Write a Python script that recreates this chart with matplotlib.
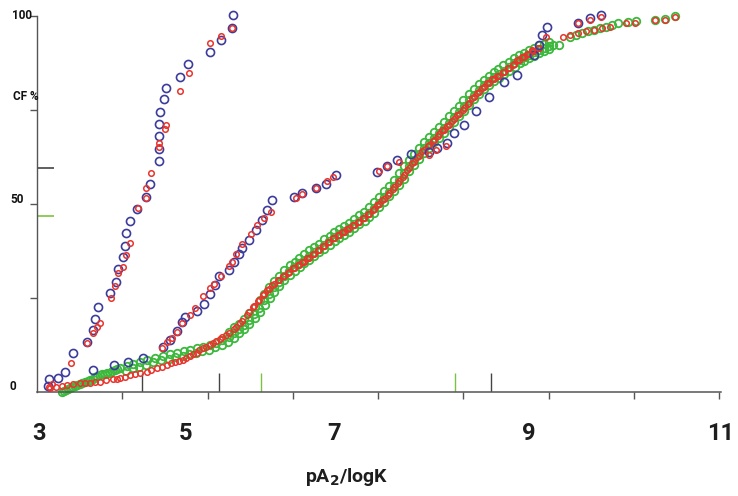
import matplotlib
matplotlib.use("Agg")
import matplotlib.pyplot as plt

# ---------------- data (pA2/logK, CF %) ----------------
blue_left_x = [3.125, 3.137, 3.242, 3.324, 3.418, 3.582, 3.652, 3.675, 3.710, 3.851, 3.921,
               3.944, 4.003, 4.026, 4.038, 4.085, 4.167, 4.272, 4.319, 4.424, 4.424, 4.424,
               4.424, 4.436, 4.483, 4.506, 4.670, 4.763, 5.021, 5.150, 5.290, 5.302]
blue_left_y = [1.5, 3.4, 3.6, 5.2, 10.3, 13.2, 16.4, 19.3, 22.5, 26.3, 29.2,
               32.6, 35.8, 38.8, 42.2, 45.4, 48.6, 51.8, 55.2, 61.4, 64.5, 68.0,
               71.2, 74.4, 77.8, 80.8, 83.7, 87.2, 90.4, 93.5, 96.8, 100.2]

red_left_x = [3.137, 3.172, 3.394, 3.582, 3.652, 3.699, 3.734, 3.862, 3.909, 3.944, 4.003,
              4.038, 4.085, 4.178, 4.272, 4.272, 4.330, 4.424, 4.424, 4.494, 4.506, 4.670,
              4.775, 5.021, 5.150, 5.290]
red_left_y = [1.3, 2.0, 7.6, 13.0, 15.6, 17.2, 18.3, 24.9, 28.1, 31.6, 33.2,
              36.4, 39.5, 48.8, 51.5, 54.2, 58.2, 65.1, 66.1, 69.9, 70.9, 80.0,
              84.8, 92.7, 94.6, 96.7]

blue_mid_x = [3.652, 3.898, 4.061, 4.237, 4.471, 4.553, 4.635, 4.693, 4.728, 4.869, 4.962,
              5.021, 5.091, 5.138, 5.255, 5.313, 5.372, 5.407, 5.489, 5.571, 5.641, 5.700,
              5.758, 6.016, 6.109, 6.273, 6.390, 6.507, 6.987, 7.104, 7.221, 7.385, 7.595,
              7.689, 7.806, 7.888, 8.005, 8.145, 8.297, 8.473, 8.625, 8.824, 8.882, 8.917,
              8.976, 9.350, 9.491, 9.619]
blue_mid_y = [5.8, 7.1, 7.9, 8.9, 11.9, 13.8, 16.1, 18.5, 19.9, 21.5, 23.3,
              26.0, 28.4, 30.8, 32.4, 34.5, 36.6, 38.2, 40.3, 43.0, 45.7, 48.3,
              51.0, 51.8, 52.8, 54.2, 55.2, 57.6, 58.4, 60.0, 61.6, 63.2, 63.8,
              64.8, 66.1, 68.8, 70.9, 74.7, 78.4, 82.4, 84.2, 89.5, 92.2, 94.9,
              97.0, 98.1, 99.4, 100.2]

red_mid_x = [4.461, 4.518, 4.576, 4.635, 4.693, 4.787, 4.845, 4.939, 5.021, 5.079, 5.161,
             5.255, 5.290, 5.337, 5.407, 5.512, 5.583, 5.665, 5.747, 6.039, 6.109, 6.273,
             6.402, 6.472, 7.010, 7.104, 7.244, 7.595, 7.677, 7.794, 8.800, 8.964, 9.350,
             9.491, 9.619]
red_mid_y = [11.6, 13.2, 14.3, 15.9, 18.3, 20.4, 22.3, 25.4, 27.6, 28.6, 30.8,
             33.4, 34.5, 36.6, 39.3, 41.9, 44.3, 46.2, 47.8, 51.6, 52.6, 54.2,
             56.0, 57.1, 58.7, 60.0, 61.1, 63.0, 64.3, 65.4, 90.9, 94.3, 98.1,
             98.9, 99.7]

# green: centre of the dense band
green_x = [3.289, 3.336, 3.383, 3.441, 3.500, 3.558, 3.617, 3.675, 3.734, 3.792, 3.851,
           3.909, 3.968, 4.050, 4.120, 4.202, 4.284, 4.377, 4.471, 4.553, 4.635, 4.717,
           4.787, 4.869, 4.939, 5.021, 5.103, 5.173, 5.255, 5.313, 5.372, 5.431, 5.489,
           5.548, 5.606, 5.665, 5.723, 5.782, 5.840, 5.899, 5.957, 6.016, 6.074, 6.133,
           6.191, 6.250, 6.308, 6.367, 6.425, 6.484, 6.542, 6.601, 6.659, 6.718, 6.776,
           6.835, 6.893, 6.952, 7.010, 7.069, 7.127, 7.186, 7.244, 7.303, 7.361, 7.420,
           7.478, 7.537, 7.595, 7.654, 7.712, 7.771, 7.829, 7.888, 7.946, 8.005, 8.063,
           8.122, 8.180, 8.239, 8.297, 8.356, 8.414, 8.473, 8.531, 8.590, 8.648, 8.707,
           8.765, 8.824, 8.882, 8.941, 8.999, 9.057, 9.116, 9.256, 9.327, 9.397, 9.467,
           9.537, 9.607, 9.677, 9.747, 9.818, 9.935, 10.029, 10.251, 10.368, 10.485]
green_y = [0.0, 0.5, 1.0, 1.5, 2.0, 2.6, 3.1, 3.9, 4.4, 4.7, 5.0,
           5.8, 6.3, 6.8, 7.4, 7.9, 8.4, 9.0, 9.5, 10.0, 10.3, 10.8,
           11.1, 11.6, 11.9, 12.4, 13.0, 13.8, 14.5, 15.6, 16.7, 17.7, 19.1,
           20.7, 22.3, 24.4, 26.0, 27.8, 29.2, 30.8, 32.1, 33.2, 34.2, 35.0,
           36.1, 37.2, 38.0, 39.0, 40.1, 41.1, 41.9, 42.7, 43.5, 44.6, 45.4,
           46.5, 47.5, 48.8, 50.2, 51.8, 53.1, 54.7, 56.3, 58.2, 60.0, 61.6,
           63.2, 64.8, 66.1, 67.5, 68.8, 70.1, 71.5, 73.1, 74.4, 76.0, 77.6,
           78.9, 80.2, 81.6, 82.6, 83.7, 84.5, 85.3, 86.4, 87.4, 88.2, 89.0,
           89.5, 90.3, 90.9, 91.4, 91.9, 92.2, 92.2, 94.3, 94.9, 95.4, 95.9,
           96.2, 96.7, 97.0, 97.5, 98.0, 98.3, 98.5, 98.8, 99.0, 100.0]

# green: upper-left edge of the band
green_up_x = [3.31, 3.36, 3.41, 3.47, 3.53, 3.59, 3.65, 3.70, 3.76, 3.82, 3.88, 3.94,
              5.25, 5.31, 5.37, 5.43, 5.49, 5.55, 5.61, 5.66, 5.72, 5.78, 5.84, 5.90, 5.96,
              6.02, 6.07, 6.13, 6.19, 6.25, 6.31, 6.37, 6.43, 6.48, 6.54, 6.60, 6.66, 6.72,
              6.78, 6.83, 6.89, 6.95, 7.01, 7.07, 7.13, 7.19, 7.24, 7.30, 7.36, 7.42, 7.48,
              7.54, 7.60, 7.65, 7.71, 7.77, 7.83, 7.89, 7.95, 8.00, 8.06, 8.12, 8.18, 8.24,
              8.30, 8.36, 8.41, 8.47, 8.53, 8.59, 8.65, 8.71, 8.77, 8.83, 8.89, 8.94, 9.00]
green_up_y = [0.3, 0.8, 1.3, 1.8, 2.3, 2.9, 3.5, 4.2, 4.6, 4.9, 5.4, 6.1,
              15.9, 17.1, 18.1, 19.3, 20.8, 22.4, 24.3, 26.1, 27.8, 29.4, 30.9, 32.4, 33.6,
              34.6, 35.5, 36.5, 37.6, 38.5, 39.4, 40.5, 41.5, 42.4, 43.2, 44.0, 45.0, 45.9,
              46.9, 47.9, 49.1, 50.4, 51.9, 53.4, 54.8, 56.4, 58.2, 60.0, 61.7, 63.3, 64.9,
              66.4, 67.7, 69.1, 70.4, 71.7, 73.2, 74.7, 76.1, 77.7, 79.2, 80.5, 81.8, 83.0,
              84.1, 85.0, 85.8, 86.8, 87.8, 88.7, 89.5, 90.2, 90.8, 91.5, 92.1, 92.6, 93.0]

# green: lower-right edge of the band
green_lo_x = [4.04, 4.12, 4.19, 4.27, 4.36, 4.45, 4.54, 4.62, 4.71, 4.78, 4.86, 4.93, 5.01,
              5.09, 5.17, 5.24, 5.31, 5.37, 5.43, 5.49, 5.55, 5.61, 5.67, 5.73, 5.78, 5.84,
              5.90, 5.96, 6.02, 6.08, 6.13, 6.19, 6.25, 6.31, 6.37, 6.43, 6.49, 6.54, 6.60,
              6.66, 6.72, 6.78, 6.84, 6.89, 6.95, 7.01, 7.07, 7.13, 7.19, 7.25, 7.30, 7.36,
              7.42, 7.48, 7.54, 7.60, 7.66, 7.71, 7.77, 7.83, 7.89, 7.95, 8.01, 8.07, 8.13,
              8.18, 8.24, 8.30, 8.36, 8.42, 8.48, 8.54, 8.60, 8.66, 8.71, 8.77, 8.83, 8.89,
              8.95, 9.01]
green_lo_y = [5.6, 6.2, 6.7, 7.2, 7.8, 8.3, 8.8, 9.2, 9.6, 10.0, 10.4, 10.8, 11.2,
              11.8, 12.5, 13.2, 14.4, 15.6, 16.8, 18.0, 19.6, 21.2, 23.0, 24.9, 26.6, 28.1,
              29.6, 31.0, 32.1, 33.2, 34.1, 35.0, 36.1, 37.1, 38.0, 39.0, 40.1, 41.0, 41.8,
              42.6, 43.5, 44.5, 45.5, 46.5, 47.6, 49.0, 50.5, 52.0, 53.4, 55.0, 56.7, 58.6,
              60.3, 61.9, 63.5, 64.9, 66.3, 67.6, 68.9, 70.3, 71.8, 73.3, 74.7, 76.3, 77.8,
              79.1, 80.4, 81.6, 82.6, 83.4, 84.4, 85.4, 86.4, 87.3, 88.0, 88.7, 89.4, 90.1,
              90.6, 91.1]

# red: main band
red_main_x = [3.149, 3.289, 3.348, 3.500, 3.617, 3.734, 3.886, 3.968, 4.085, 4.143, 4.284,
              4.401, 4.518, 4.612, 4.705, 4.787, 4.869, 4.939, 5.021, 5.103, 5.173, 5.255,
              5.337, 5.407, 5.489, 5.548, 5.606, 5.665, 5.723, 5.782, 5.840, 5.899, 5.957,
              6.016, 6.074, 6.133, 6.191, 6.250, 6.308, 6.367, 6.425, 6.484, 6.542, 6.601,
              6.659, 6.718, 6.776, 6.835, 6.893, 6.952, 7.010, 7.069, 7.127, 7.186, 7.244,
              7.303, 7.361, 7.420, 7.478, 7.537, 7.595, 7.654, 7.712, 7.771, 7.829, 7.888,
              7.946, 8.005, 8.063, 8.122, 8.180, 8.239, 8.297, 8.356, 8.414, 8.473, 8.531,
              8.590, 8.648, 8.707, 8.765, 8.824, 8.882, 9.174, 9.256, 9.350, 9.444, 9.537,
              9.631, 9.724, 9.911, 10.017, 10.251, 10.368, 10.485]
red_main_y = [1.0, 1.5, 1.8, 2.3, 2.3, 2.6, 3.4, 3.6, 4.4, 4.7, 5.2,
              6.3, 7.1, 7.9, 8.4, 9.5, 10.3, 11.6, 12.4, 13.5, 14.5, 15.6,
              17.2, 18.8, 21.2, 22.8, 24.4, 26.0, 27.3, 28.6, 29.7, 30.8, 31.8,
              32.9, 33.7, 34.5, 35.6, 36.6, 37.7, 38.8, 39.8, 40.9, 41.7, 42.5,
              43.5, 44.3, 45.1, 46.2, 47.3, 48.6, 49.9, 51.2, 52.8, 54.4, 56.0,
              57.6, 59.5, 61.1, 62.7, 64.3, 65.6, 66.9, 68.5, 69.6, 70.9, 72.5,
              73.8, 75.4, 76.8, 78.4, 79.7, 81.0, 82.1, 83.2, 84.0, 85.0, 86.1,
              87.1, 88.2, 89.0, 89.8, 90.6, 91.4, 94.3, 94.9, 95.4, 95.9, 96.2,
              96.7, 97.0, 98.0, 98.0, 98.8, 98.8, 99.6]
red_main2_x = [3.22, 3.42, 3.56, 3.68, 3.81, 3.93, 4.03, 4.21, 4.34, 4.46, 4.57, 4.66, 4.75,
               4.83, 4.90, 4.98, 5.06, 5.14, 5.21, 5.31, 5.38, 5.46, 5.53, 5.59, 5.65, 5.70,
               5.76, 5.82, 5.88, 5.94, 6.00, 6.06, 6.11, 6.17, 6.23, 6.29, 6.35, 6.41, 6.47,
               6.53, 6.58, 6.64, 6.70, 6.76, 6.82, 6.88, 6.94, 6.99, 7.05, 7.11, 7.17, 7.23,
               7.29, 7.34, 7.40, 7.46, 7.52, 7.58, 7.64, 7.70, 7.75, 7.81, 7.87, 7.93, 7.99,
               8.05, 8.10, 8.16, 8.22, 8.28, 8.34, 8.40, 8.46, 8.52, 8.58, 8.63, 8.69, 8.75,
               8.81, 8.87]
red_main2_y = [1.2, 2.0, 2.3, 2.5, 3.0, 3.5, 4.0, 5.0, 5.7, 6.7, 7.5, 8.1, 9.0,
               9.9, 11.0, 12.0, 13.0, 14.0, 15.0, 16.8, 18.4, 20.4, 22.4, 24.0, 25.6, 27.1,
               28.4, 29.6, 30.7, 31.7, 32.8, 33.7, 34.5, 35.5, 36.5, 37.6, 38.7, 39.7, 40.8,
               41.7, 42.5, 43.4, 44.3, 45.1, 46.1, 47.2, 48.4, 49.7, 51.0, 52.4, 54.0, 55.6,
               57.2, 59.0, 60.7, 62.3, 63.9, 65.4, 66.7, 68.1, 69.5, 70.7, 72.1, 73.6, 75.0,
               76.5, 78.0, 79.5, 80.8, 82.0, 83.1, 84.0, 84.9, 86.0, 87.0, 88.1, 89.0, 89.8,
               90.6, 91.4]

# marker lines on the axes (medians / quartiles)
black_xmarks = [4.225, 5.138, 8.321]
green_xmarks = [5.629, 7.899]
black_ymark = 59.5
green_ymark = 46.7

xtick_labels = ["3", "5", "7", "9", "11"]
xtick_label_pos = [3.02, 4.74, 6.484, 8.765, 11.023]
xminor = [4, 5, 6, 7, 8, 9, 10, 11]
ytick_vals = [25, 50, 75, 100]

BLUE = "#3c3c9c"
RED = "#e8342c"
GREEN = "#3cb83c"
LGREEN = "#7cc242"
AXC = "#555555"
TXT = "#1e1e1e"
FONT = ["Roboto", "DejaVu Sans"]

fig = plt.figure(figsize=(7.38, 4.96), dpi=100)
ax = fig.add_axes([0.0505, 0.2103, 0.9265, 0.758])
ax.set_xlim(3, 11)
ax.set_ylim(0, 100)

kw = dict(linestyle="none", marker="o", markerfacecolor="none", clip_on=False)
gk = dict(markeredgecolor=GREEN, markersize=5.4, markeredgewidth=1.3, zorder=2, **kw)
rk = dict(markeredgecolor=RED, markersize=4.0, markeredgewidth=1.1, **kw)
bk = dict(markeredgecolor=BLUE, markersize=5.8, markeredgewidth=1.2, zorder=4, **kw)
ax.plot(green_up_x, green_up_y, **gk)
ax.plot(green_lo_x, green_lo_y, **gk)
ax.plot(green_x, green_y, **gk)
ax.plot(red_main_x, red_main_y, zorder=3, **rk)
ax.plot(red_main2_x, red_main2_y, zorder=3, **rk)
ax.plot(blue_left_x, blue_left_y, **bk)
ax.plot(blue_mid_x, blue_mid_y, **bk)
ax.plot(red_left_x, red_left_y, zorder=5, **rk)
ax.plot(red_mid_x, red_mid_y, zorder=5, **rk)

# spines
for s in ["top", "right"]:
    ax.spines[s].set_visible(False)
ax.spines["left"].set_color(AXC)
ax.spines["bottom"].set_color(AXC)
ax.spines["left"].set_linewidth(1.0)
ax.spines["bottom"].set_linewidth(1.1)

# x ticks: labels at their drawn positions, short marks at each unit
ax.set_xticks(xtick_label_pos)
ax.set_xticklabels(xtick_labels, fontsize=17, fontweight="bold", family=FONT, color=TXT)
ax.tick_params(axis="x", which="major", length=0, pad=22)
ax.set_xticks(xminor, minor=True)
ax.tick_params(axis="x", which="minor", length=5, width=1.0, color=AXC, direction="out")

ax.set_yticks(ytick_vals)
ax.set_yticklabels([])
ax.tick_params(axis="y", which="major", length=5, width=1.0, color=AXC, direction="out")

# y labels as drawn
lab = dict(xycoords=("axes fraction", "data"), textcoords="offset points",
           fontsize=8.5, fontweight="bold", family=FONT, color="#111111", va="center", ha="right")
ax.annotate("100", xy=(0, 100), xytext=(-3.6, 0), **lab)
ax.annotate("50", xy=(0, 50), xytext=(-10.0, 2.9), **lab)
ax.annotate("0", xy=(0, 0), xytext=(-15.0, 3.4), **lab)
ax.annotate("CF %", xy=(0, 78.4), xytext=(0.8, 0), **lab)

# inward marker lines
ax.vlines(black_xmarks, 0, 5, colors="#444444", linewidth=1.0, zorder=1)
ax.vlines(green_xmarks, 0, 5, colors=LGREEN, linewidth=1.0, zorder=1)
ax.hlines(black_ymark, 3, 3.2, colors="#444444", linewidth=1.2, zorder=1)
ax.hlines(green_ymark, 3, 3.2, colors=LGREEN, linewidth=1.2, zorder=1)

fig.text(347 / 738, 1 - 477 / 496, "pA$_\\mathbf{2}$/logK", ha="center", va="center",
         fontsize=14, fontweight="bold", family=FONT, color=TXT)

fig.savefig("out.png", dpi=100)
